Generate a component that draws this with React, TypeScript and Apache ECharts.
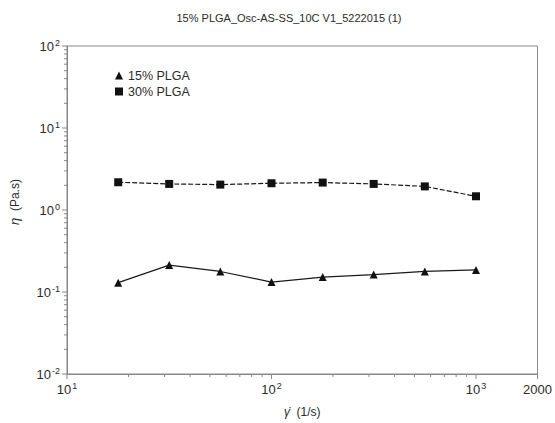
import React, { useEffect, useRef } from "react";
import * as echarts from "echarts";

const shearRates = [17.8, 31.6, 56.2, 100, 178, 316, 562, 1000];
const plga15 = [0.13, 0.213, 0.178, 0.132, 0.152, 0.163, 0.178, 0.186];
const plga30 = [2.18, 2.08, 2.04, 2.12, 2.16, 2.08, 1.94, 1.47];

const xMajorTicks = [10, 100, 1000, 2000];
const xMinorTicks = [20, 30, 40, 50, 60, 70, 80, 90, 200, 300, 400, 500, 600, 700, 800, 900];
const yMajorTicks = [0.01, 0.1, 1, 10, 100];
const yMinorTicks = [
  0.02, 0.03, 0.04, 0.05, 0.06, 0.07, 0.08, 0.09,
  0.2, 0.3, 0.4, 0.5, 0.6, 0.7, 0.8, 0.9,
  2, 3, 4, 5, 6, 7, 8, 9,
  20, 30, 40, 50, 60, 70, 80, 90,
];
const xTickLabels: Record<string, string> = {
  "10": "{b|10}{sup|1}",
  "100": "{b|10}{sup|2}",
  "1000": "{b|10}{sup|3}",
  "2000": "{b|2000}",
};
const yTickLabels: Record<string, string> = {
  "0.01": "{b|10}{sup|-2}",
  "0.1": "{b|10}{sup|-1}",
  "1": "{b|10}{sup|0}",
  "10": "{b|10}{sup|1}",
  "100": "{b|10}{sup|2}",
};

const X_MIN = 10;
const X_MAX = 2000;
const Y_MIN = 0.01;
const Y_MAX = 100;

const AXIS = "#888888";
const TXT = "#2b2b2b";
const FONT = "Liberation Sans, Arial, sans-serif";

const rich = {
  b: { fontSize: 13, lineHeight: 16, color: TXT, fontFamily: FONT },
  sup: { fontSize: 9, lineHeight: 9, verticalAlign: "top" as const, color: TXT, fontFamily: FONT, padding: [0, 0, 0, 1] },
};

const findLabel = (map: Record<string, string>, v: number) => {
  for (const k of Object.keys(map)) {
    if (Math.abs(Number(k) - v) / Number(k) < 1e-6) return map[k];
  }
  return "";
};

// [x, y, length, kind] kind 0 = x-axis tick, 1 = y-axis tick
const tickMarks = [
  ...xMajorTicks.map((v) => [v, Y_MIN, 5, 0]),
  ...xMinorTicks.map((v) => [v, Y_MIN, 3, 0]),
  ...yMajorTicks.map((v) => [X_MIN, v, 5, 1]),
  ...yMinorTicks.map((v) => [X_MIN, v, 3, 1]),
];

export default function App() {
  const ref = useRef<HTMLDivElement>(null);
  useEffect(() => {
    if (!ref.current) return;
    const chart = echarts.init(ref.current, undefined, { renderer: "svg" });
    const grid = { left: 67, right: 17, top: 46, bottom: 42, show: true, borderColor: AXIS, borderWidth: 1 };
    chart.setOption({
      animation: false,
      backgroundColor: "#ffffff",
      title: {
        text: "15% PLGA_Osc-AS-SS_10C V1_5222015 (1)",
        left: 284,
        textAlign: "center",
        top: 7,
        textStyle: { fontSize: 11, fontWeight: "normal", color: TXT, fontFamily: FONT },
      },
      legend: {
        left: 110,
        top: 64,
        orient: "vertical",
        itemWidth: 8,
        itemHeight: 8,
        itemGap: 3,
        textStyle: { fontSize: 12.5, color: TXT, fontFamily: FONT },
        data: [
          { name: "15% PLGA", icon: "triangle" },
          { name: "30% PLGA", icon: "rect" },
        ],
      },
      grid,
      xAxis: {
        type: "log",
        logBase: 10,
        min: X_MIN,
        max: X_MAX,
        position: "bottom",
        name: "{i|γ̇}  (1/s)",
        nameLocation: "middle",
        nameGap: 32,
        nameTextStyle: {
          fontSize: 12,
          color: TXT,
          fontFamily: FONT,
          rich: { i: { fontSize: 12, fontStyle: "italic", color: TXT, fontFamily: FONT } },
        },
        axisLine: { show: true, lineStyle: { color: AXIS, width: 1 } },
        axisTick: { show: false },
        axisLabel: {
          show: true,
          margin: 7,
          customValues: xMajorTicks,
          formatter: (v: number) => findLabel(xTickLabels, v),
          rich,
        },
        splitLine: { show: false },
      },
      yAxis: {
        type: "log",
        logBase: 10,
        min: Y_MIN,
        max: Y_MAX,
        position: "left",
        name: "{i|η}  (Pa.s)",
        nameLocation: "middle",
        nameGap: 46,
        nameRotate: 90,
        nameTextStyle: {
          fontSize: 12,
          color: TXT,
          fontFamily: FONT,
          padding: [0, 0, 0, 16],
          rich: { i: { fontSize: 13, fontStyle: "italic", color: TXT, fontFamily: FONT } },
        },
        axisLine: { show: true, lineStyle: { color: AXIS, width: 1 } },
        axisTick: { show: false },
        axisLabel: {
          show: true,
          margin: 7,
          customValues: yMajorTicks,
          formatter: (v: number) => findLabel(yTickLabels, v),
          rich,
        },
        splitLine: { show: false },
      },
      series: [
        {
          name: "ticks",
          type: "custom",
          silent: true,
          clip: false,
          z: 1,
          encode: { x: 0, y: 1 },
          data: tickMarks,
          renderItem: (_params: any, api: any) => {
            const p = api.coord([api.value(0), api.value(1)]);
            const len = api.value(2);
            const kind = api.value(3);
            const shape =
              kind === 0
                ? { x1: p[0], y1: p[1], x2: p[0], y2: p[1] + len }
                : { x1: p[0], y1: p[1], x2: p[0] - len, y2: p[1] };
            return {
              type: "line",
              shape,
              style: { stroke: AXIS, lineWidth: 1 },
            };
          },
        },
        {
          name: "15% PLGA",
          type: "line",
          data: shearRates.map((x, i) => [x, plga15[i]]),
          symbol: "triangle",
          symbolSize: 8,
          z: 3,
          itemStyle: { color: "#111111" },
          lineStyle: { color: "#1a1a1a", width: 1.2, type: "solid" },
        },
        {
          name: "30% PLGA",
          type: "line",
          data: shearRates.map((x, i) => [x, plga30[i]]),
          symbol: "rect",
          symbolSize: 8,
          z: 3,
          itemStyle: { color: "#111111" },
          lineStyle: { color: "#1a1a1a", width: 1.2, type: [5, 2] },
        },
      ],
    });
    return () => chart.dispose();
  }, []);
  return (
    <div
      ref={ref}
      style={{ position: "fixed", left: 0, top: 0, width: 555, height: 423, background: "#fff" }}
    />
  );
}
